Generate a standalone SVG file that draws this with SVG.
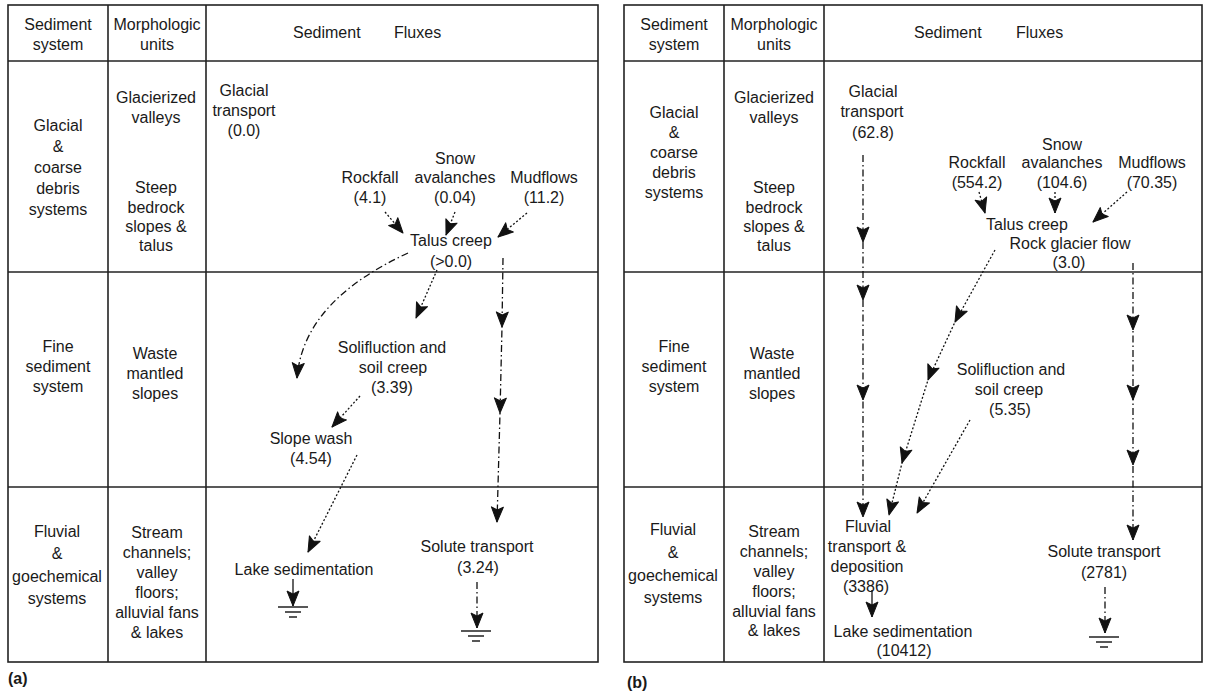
<svg xmlns="http://www.w3.org/2000/svg" xmlns:xlink="http://www.w3.org/1999/xlink" width="1207" height="695" viewBox="0 0 1207 695">
<style>
.t{font-family:"Liberation Sans",Arial,sans-serif;font-size:16px;fill:#1a1a1a;text-anchor:middle}
.ts{font-family:"Liberation Sans",Arial,sans-serif;font-size:16px;fill:#1a1a1a}
.lab{font-family:"Liberation Sans",Arial,sans-serif;font-size:16px;font-weight:bold;fill:#1a1a1a}
.grid{fill:none;stroke:#222;stroke-width:1.6}
.c{fill:none;stroke:#111;stroke-width:1.3}
.dd{stroke-dasharray:7 3 1.5 3}
.dot{stroke-dasharray:2 2}
.gnd line{stroke:#111;stroke-width:1.4}
</style>
<defs>
<marker id="ah" viewBox="-17 -7 18 14" refX="0" refY="0" markerWidth="18" markerHeight="14" markerUnits="userSpaceOnUse" orient="auto">
<path d="M0,0 L-15,-6 L-12,0 L-15,6 Z" fill="#111" stroke="#111" stroke-width="1" stroke-linejoin="round"/>
</marker>
<g id="ground" class="gnd">
<line x1="-15" y1="0" x2="15" y2="0"/>
<line x1="-8" y1="5" x2="8" y2="5"/>
<line x1="-4" y1="10" x2="4" y2="10"/>
</g>
</defs>
<rect width="1207" height="695" fill="#fff"/>

<!-- ===== Panel (a) ===== -->
<g id="table-a" class="grid">
<rect x="8" y="5" width="590" height="657"/>
<line x1="8" y1="61" x2="598" y2="61"/>
<line x1="8" y1="272" x2="598" y2="272"/>
<line x1="8" y1="487" x2="598" y2="487"/>
<line x1="108" y1="5" x2="108" y2="662"/>
<line x1="206" y1="5" x2="206" y2="662"/>
</g>
<g id="a-head-system"><text class="t" x="58" y="30">Sediment</text><text class="t" x="58" y="50">system</text></g>
<g id="a-head-morph"><text class="t" x="157" y="30">Morphologic</text><text class="t" x="157" y="50">units</text></g>
<g id="a-head-flux"><text class="ts" y="38"><tspan x="293">Sediment</tspan><tspan x="394">Fluxes</tspan></text></g>

<g id="a-sys-glacial"><text class="t" x="58" y="131">Glacial</text><text class="t" x="58" y="152">&amp;</text><text class="t" x="58" y="173">coarse</text><text class="t" x="58" y="194">debris</text><text class="t" x="58" y="215">systems</text></g>
<g id="a-unit-glacierized"><text class="t" x="156" y="103">Glacierized</text><text class="t" x="156" y="123">valleys</text></g>
<g id="a-unit-steep"><text class="t" x="156" y="193">Steep</text><text class="t" x="156" y="213">bedrock</text><text class="t" x="156" y="232">slopes &amp;</text><text class="t" x="156" y="251">talus</text></g>
<g id="a-sys-fine"><text class="t" x="58" y="352">Fine</text><text class="t" x="58" y="372">sediment</text><text class="t" x="58" y="392">system</text></g>
<g id="a-unit-waste"><text class="t" x="155" y="359">Waste</text><text class="t" x="155" y="379">mantled</text><text class="t" x="155" y="399">slopes</text></g>
<g id="a-sys-fluvial"><text class="t" x="57" y="537">Fluvial</text><text class="t" x="57" y="559">&amp;</text><text class="t" x="57" y="582">goechemical</text><text class="t" x="57" y="604">systems</text></g>
<g id="a-unit-stream"><text class="t" x="157" y="538">Stream</text><text class="t" x="157" y="558">channels;</text><text class="t" x="157" y="578">valley</text><text class="t" x="157" y="598">floors;</text><text class="t" x="157" y="618">alluvial fans</text><text class="t" x="157" y="638">&amp; lakes</text></g>

<g id="a-glacial-transport"><text class="t" x="244" y="96">Glacial</text><text class="t" x="244" y="116">transport</text><text class="t" x="244" y="136">(0.0)</text></g>
<g id="a-rockfall"><text class="t" x="370" y="183">Rockfall</text><text class="t" x="370" y="203">(4.1)</text></g>
<g id="a-snow"><text class="t" x="455" y="164">Snow</text><text class="t" x="455" y="183">avalanches</text><text class="t" x="455" y="203">(0.04)</text></g>
<g id="a-mudflows"><text class="t" x="544" y="183">Mudflows</text><text class="t" x="544" y="203">(11.2)</text></g>
<g id="a-talus"><text class="t" x="451" y="246">Talus creep</text><text class="t" x="451" y="267">(&gt;0.0)</text></g>
<g id="a-solifluction"><text class="t" x="392" y="353">Solifluction and</text><text class="t" x="393" y="373">soil creep</text><text class="t" x="392" y="393">(3.39)</text></g>
<g id="a-slopewash"><text class="t" x="311" y="444">Slope wash</text><text class="t" x="311" y="464">(4.54)</text></g>
<g id="a-lake"><text class="t" x="304" y="575">Lake sedimentation</text></g>
<g id="a-solute"><text class="t" x="477" y="552">Solute transport</text><text class="t" x="478" y="573">(3.24)</text></g>
<g id="a-label"><text class="lab" x="8" y="684">(a)</text></g>

<!-- ===== Panel (b) ===== -->
<g id="table-b" class="grid">
<rect x="624" y="5" width="578" height="657"/>
<line x1="624" y1="61" x2="1202" y2="61"/>
<line x1="624" y1="272" x2="1202" y2="272"/>
<line x1="624" y1="487" x2="1202" y2="487"/>
<line x1="724" y1="5" x2="724" y2="662"/>
<line x1="824" y1="5" x2="824" y2="662"/>
</g>
<g id="b-head-system"><text class="t" x="674" y="30">Sediment</text><text class="t" x="674" y="50">system</text></g>
<g id="b-head-morph"><text class="t" x="774" y="30">Morphologic</text><text class="t" x="774" y="50">units</text></g>
<g id="b-head-flux"><text class="ts" y="38"><tspan x="914">Sediment</tspan><tspan x="1016">Fluxes</tspan></text></g>

<g id="b-sys-glacial"><text class="t" x="674" y="118">Glacial</text><text class="t" x="674" y="138">&amp;</text><text class="t" x="674" y="158">coarse</text><text class="t" x="674" y="178">debris</text><text class="t" x="674" y="198">systems</text></g>
<g id="b-unit-glacierized"><text class="t" x="774" y="103">Glacierized</text><text class="t" x="774" y="123">valleys</text></g>
<g id="b-unit-steep"><text class="t" x="774" y="193">Steep</text><text class="t" x="774" y="213">bedrock</text><text class="t" x="774" y="232">slopes &amp;</text><text class="t" x="774" y="251">talus</text></g>
<g id="b-sys-fine"><text class="t" x="674" y="352">Fine</text><text class="t" x="674" y="372">sediment</text><text class="t" x="674" y="392">system</text></g>
<g id="b-unit-waste"><text class="t" x="772" y="359">Waste</text><text class="t" x="772" y="379">mantled</text><text class="t" x="772" y="399">slopes</text></g>
<g id="b-sys-fluvial"><text class="t" x="673" y="535">Fluvial</text><text class="t" x="673" y="558">&amp;</text><text class="t" x="673" y="581">goechemical</text><text class="t" x="673" y="603">systems</text></g>
<g id="b-unit-stream"><text class="t" x="774" y="537">Stream</text><text class="t" x="774" y="557">channels;</text><text class="t" x="774" y="577">valley</text><text class="t" x="774" y="597">floors;</text><text class="t" x="774" y="617">alluvial fans</text><text class="t" x="774" y="636">&amp; lakes</text></g>

<g id="b-glacial-transport"><text class="t" x="873" y="97">Glacial</text><text class="t" x="872" y="117">transport</text><text class="t" x="873" y="138">(62.8)</text></g>
<g id="b-rockfall"><text class="t" x="977" y="168">Rockfall</text><text class="t" x="977" y="188">(554.2)</text></g>
<g id="b-snow"><text class="t" x="1062" y="150">Snow</text><text class="t" x="1062" y="168">avalanches</text><text class="t" x="1062" y="188">(104.6)</text></g>
<g id="b-mudflows"><text class="t" x="1152" y="168">Mudflows</text><text class="t" x="1152" y="188">(70.35)</text></g>
<g id="b-talus"><text class="t" x="1027" y="230">Talus creep</text><text class="t" x="1070" y="249">Rock glacier flow</text><text class="t" x="1069" y="268">(3.0)</text></g>
<g id="b-solifluction"><text class="t" x="1011" y="375">Solifluction and</text><text class="t" x="1009" y="395">soil creep</text><text class="t" x="1010" y="415">(5.35)</text></g>
<g id="b-fluvial"><text class="t" x="868" y="532">Fluvial</text><text class="t" x="867" y="552">transport &amp;</text><text class="t" x="867" y="572">deposition</text><text class="t" x="866" y="592">(3386)</text></g>
<g id="b-lake"><text class="t" x="903" y="637">Lake sedimentation</text><text class="t" x="904" y="656">(10412)</text></g>
<g id="b-solute"><text class="t" x="1104" y="557">Solute transport</text><text class="t" x="1104" y="578">(2781)</text></g>
<g id="b-label"><text class="lab" x="627" y="688">(b)</text></g>

<!-- ===== Connectors ===== -->
<g id="connectors">
<!-- panel a -->
<line class="c dot" x1="385" y1="212" x2="403" y2="233" marker-end="url(#ah)"/>
<line class="c dot" x1="455" y1="212" x2="446" y2="235" marker-end="url(#ah)"/>
<line class="c dot" x1="527" y1="213" x2="498" y2="237" marker-end="url(#ah)"/>
<path class="c dd" d="M408,253 C350,280 302,318 297,378" marker-end="url(#ah)"/>
<line class="c dot" x1="437" y1="270" x2="416" y2="318" marker-end="url(#ah)"/>
<polyline class="c dd" points="503,258 502,327 500,413 497,522" marker-mid="url(#ah)" marker-end="url(#ah)"/>
<line class="c dot" x1="360" y1="396" x2="332" y2="427" marker-end="url(#ah)"/>
<line class="c dot" x1="357" y1="455" x2="308" y2="552" marker-end="url(#ah)"/>
<line class="c" x1="293" y1="579" x2="293" y2="606" marker-end="url(#ah)"/>
<use xlink:href="#ground" x="293" y="607"/>
<line class="c dd" x1="477" y1="582" x2="477" y2="628" marker-end="url(#ah)"/>
<use xlink:href="#ground" x="476" y="631"/>
<!-- panel b -->
<polyline class="c dd" points="863,155 863,242 863,300 863,400 863,517" marker-mid="url(#ah)" marker-end="url(#ah)"/>
<line class="c dot" x1="979" y1="192" x2="985" y2="213" marker-end="url(#ah)"/>
<line class="c dot" x1="1055" y1="192" x2="1055" y2="213" marker-end="url(#ah)"/>
<line class="c dot" x1="1127" y1="192" x2="1093" y2="222" marker-end="url(#ah)"/>
<polyline class="c dot" points="995,250 955,322 928,380 902,463 889,515" marker-mid="url(#ah)" marker-end="url(#ah)"/>
<polyline class="c dd" points="1133,263 1133,330 1133,400 1133,465 1133,540" marker-mid="url(#ah)" marker-end="url(#ah)"/>
<line class="c dot" x1="970" y1="420" x2="917" y2="513" marker-end="url(#ah)"/>
<line class="c" x1="872" y1="590" x2="872" y2="617" marker-end="url(#ah)"/>
<line class="c dd" x1="1105" y1="587" x2="1105" y2="633" marker-end="url(#ah)"/>
<use xlink:href="#ground" x="1104" y="637"/>
</g>
</svg>
